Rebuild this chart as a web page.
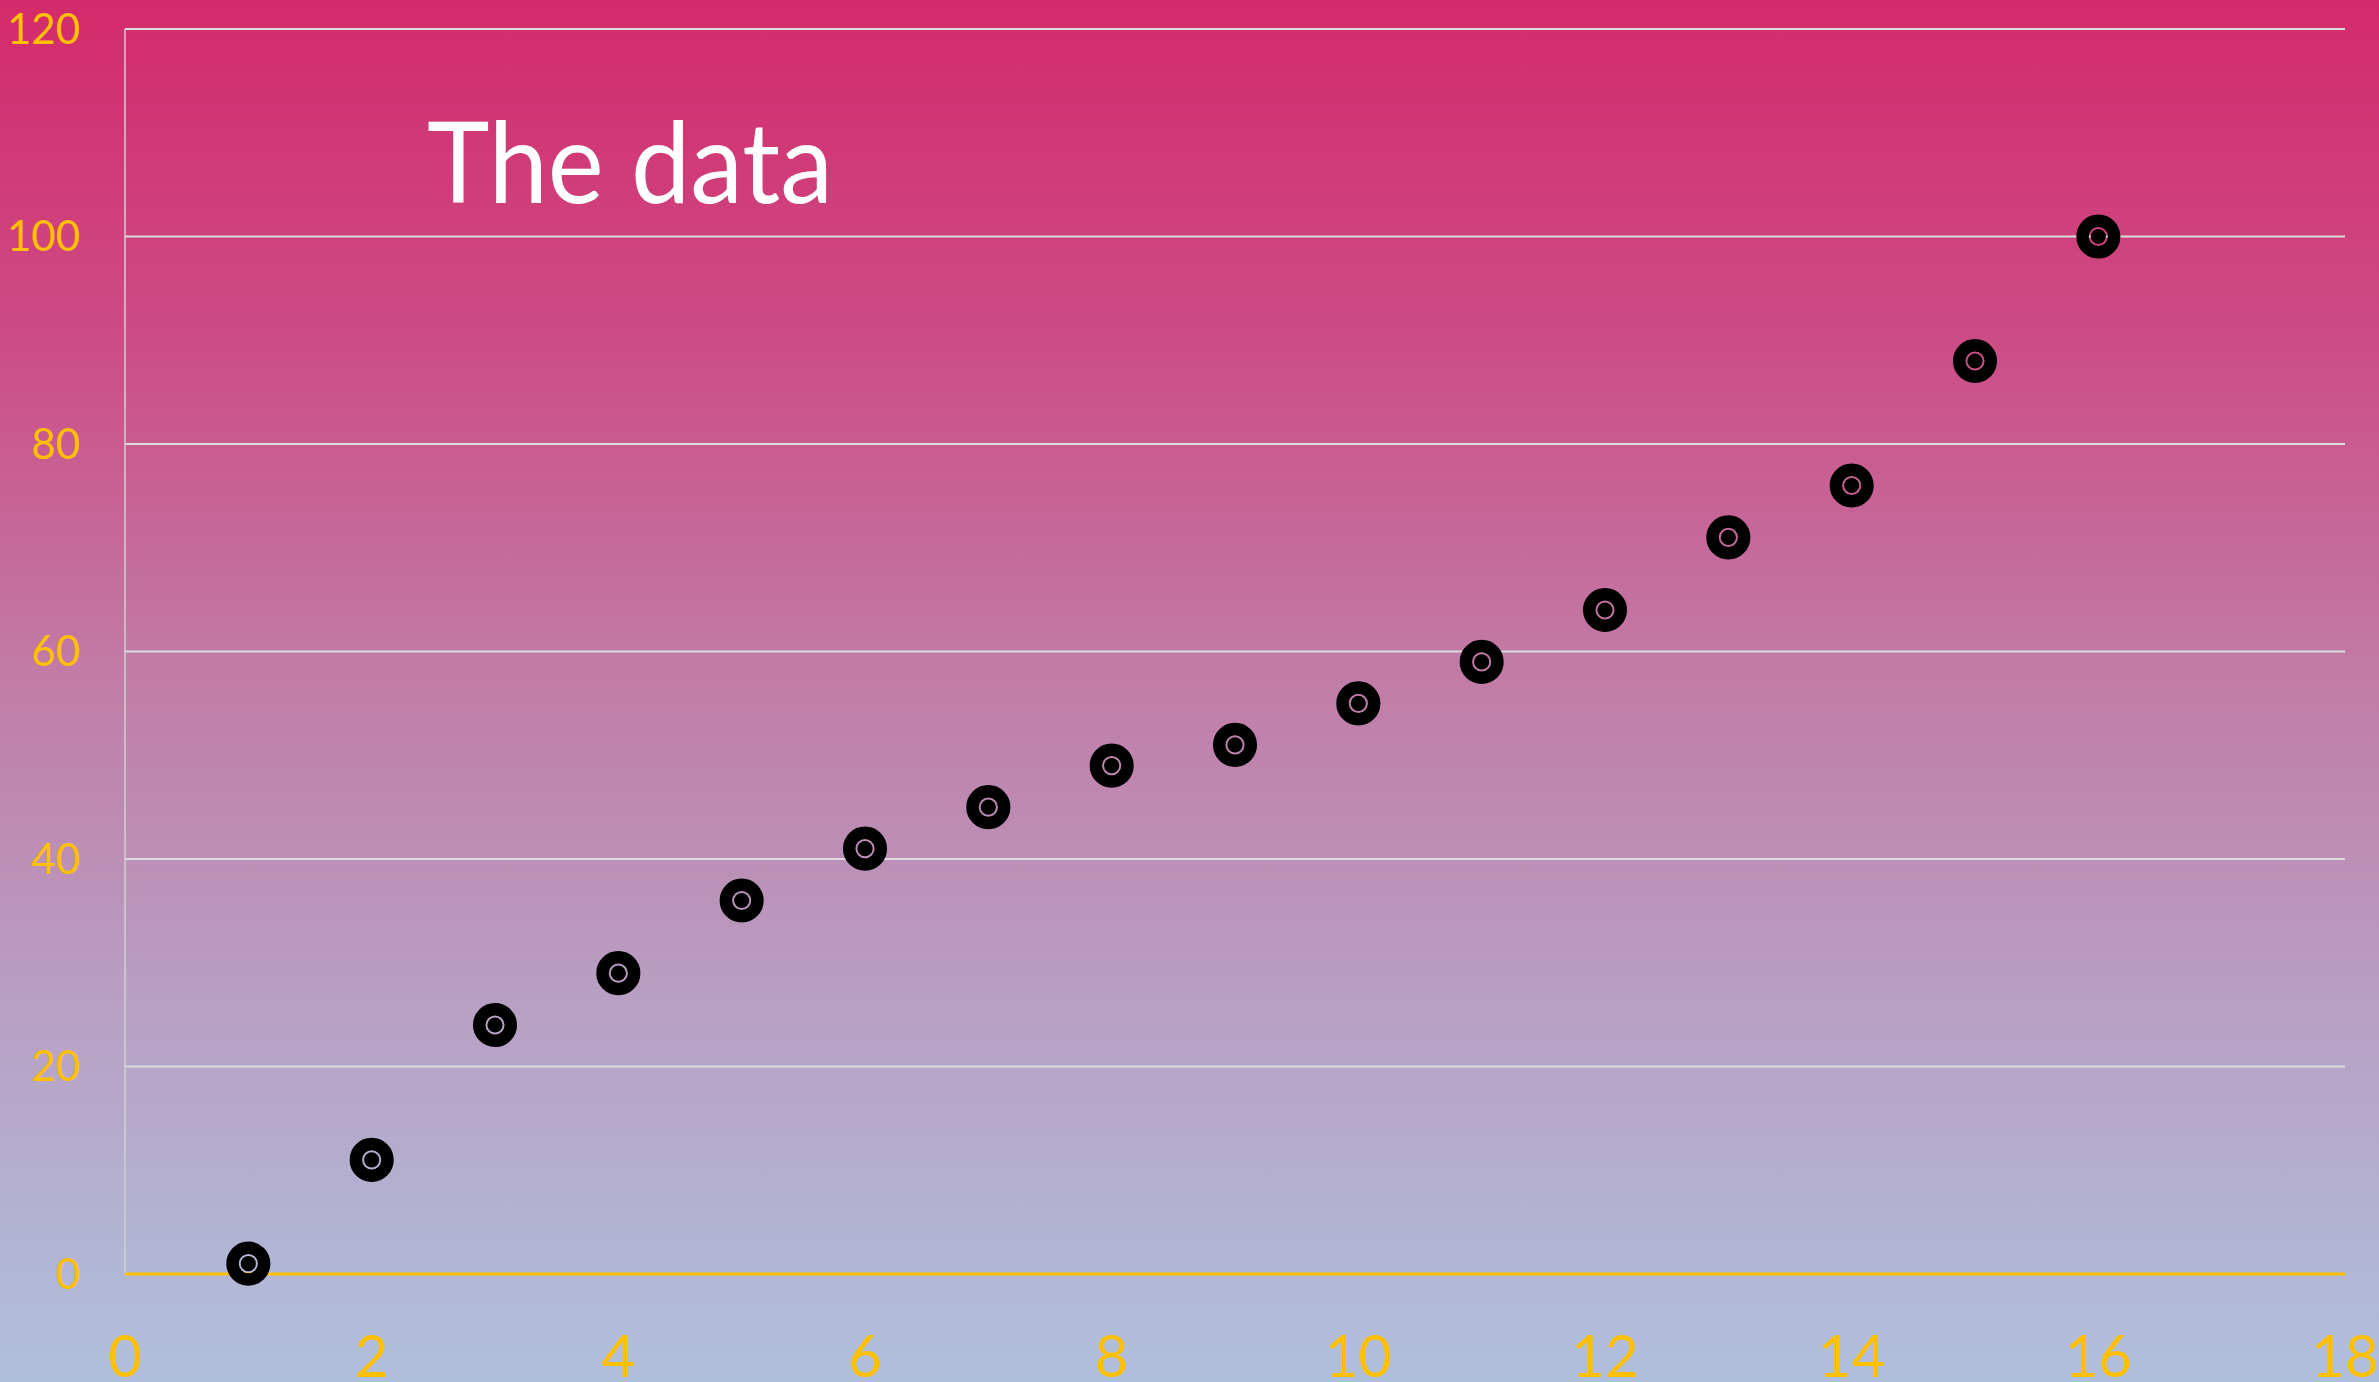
<!DOCTYPE html>
<html>
<head>
<meta charset="utf-8">
<script src="https://cdn.jsdelivr.net/npm/d3@7"></script>
<style>
  html, body { margin: 0; padding: 0; overflow: hidden; }
  svg { display: block; }
</style>
</head>
<body>
<div id="chart"></div>
<script>
const xValues = [1, 2, 3, 4, 5, 6, 7, 8, 9, 10, 11, 12, 13, 14, 15, 16];
const yValues = [1, 11, 24, 29, 36, 41, 45, 49, 51, 55, 59, 64, 71, 76, 88, 100];
const xTicks = [0, 2, 4, 6, 8, 10, 12, 14, 16, 18];
const yTicks = [0, 20, 40, 60, 80, 100, 120];
const titleText = "The data";

const width = 2379;
const height = 1382;
const margin = { top: 29, right: 34, bottom: 108, left: 125 };

const svg = d3
  .select("#chart")
  .append("svg")
  .attr("width", width)
  .attr("height", height);

// background gradient
const defs = svg.append("defs");
const grad = defs
  .append("linearGradient")
  .attr("id", "bg")
  .attr("x1", 0).attr("y1", 0)
  .attr("x2", 0).attr("y2", 1);
grad.append("stop").attr("offset", "0%").attr("stop-color", "#d42a6a");
grad.append("stop").attr("offset", "25%").attr("stop-color", "#cc4d86");
grad.append("stop").attr("offset", "48%").attr("stop-color", "#c27aa6");
grad.append("stop").attr("offset", "73%").attr("stop-color", "#b8a0c4");
grad.append("stop").attr("offset", "100%").attr("stop-color", "#afc0dc");

svg.append("rect")
  .attr("width", width)
  .attr("height", height)
  .attr("fill", "url(#bg)");

const x = d3
  .scaleLinear()
  .domain([0, 18])
  .range([margin.left, width - margin.right]);

const y = d3
  .scaleLinear()
  .domain([0, 120])
  .range([height - margin.bottom, margin.top]);

// gridlines
svg.append("g")
  .selectAll("line")
  .data(yTicks.filter((d) => d > 0))
  .enter()
  .append("line")
  .attr("x1", x(0))
  .attr("x2", x(18))
  .attr("y1", (d) => y(d))
  .attr("y2", (d) => y(d))
  .attr("stroke", "#dcdcdc")
  .attr("stroke-width", 2);

// left axis line
svg.append("line")
  .attr("x1", x(0)).attr("x2", x(0))
  .attr("y1", y(120)).attr("y2", y(0))
  .attr("stroke", "#d0d0d0")
  .attr("stroke-width", 1.5);

// y tick labels
svg.append("g")
  .selectAll("text")
  .data(yTicks)
  .enter()
  .append("text")
  .attr("x", 80)
  .attr("y", (d) => y(d))
  .attr("dy", "0.35em")
  .attr("text-anchor", "end")
  .attr("font-family", "Lato, 'Open Sans', sans-serif")
  .attr("font-size", 42)
  .attr("fill", "#ffc000")
  .text((d) => d);

// x axis line
svg.append("line")
  .attr("x1", x(0)).attr("x2", x(18))
  .attr("y1", y(0)).attr("y2", y(0))
  .attr("stroke", "#ffc000")
  .attr("stroke-width", 3);

// x tick labels
svg.append("g")
  .selectAll("text")
  .data(xTicks)
  .enter()
  .append("text")
  .attr("x", (d) => x(d))
  .attr("y", 1377)
  .attr("text-anchor", "middle")
  .attr("font-family", "Lato, 'Open Sans', sans-serif")
  .attr("font-size", 58)
  .attr("fill", "#ffc000")
  .text((d) => d);

// markers
const points = xValues.map((d, i) => ({ x: d, y: yValues[i] }));
const marks = svg.append("g")
  .selectAll("g")
  .data(points)
  .enter()
  .append("g")
  .attr("transform", (d) => `translate(${x(d.x)},${y(d.y)})`);

marks.append("circle")
  .attr("r", 15.8)
  .attr("fill", "none")
  .attr("stroke", "#000")
  .attr("stroke-width", 12.5);

marks.append("circle")
  .attr("r", 7.6)
  .attr("fill", "#000");

// title
svg.append("text")
  .attr("x", 427)
  .attr("y", 203)
  .attr("font-family", "Lato, 'Open Sans', sans-serif")
  .attr("font-size", 112)
  .attr("fill", "#ffffff")
  .attr("textLength", 406)
  .attr("lengthAdjust", "spacingAndGlyphs")
  .text(titleText);
</script>
</body>
</html>
